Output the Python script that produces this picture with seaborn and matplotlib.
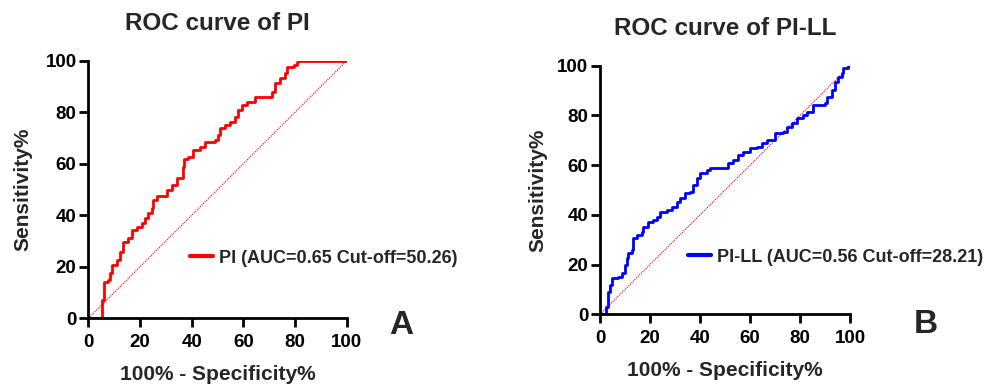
import numpy as np
import pandas as pd
import matplotlib
matplotlib.use("Agg")
import matplotlib.pyplot as plt
import seaborn as sns

# ---- data ----
pi_fpr = [0, 4.5, 5.4, 6.0, 7.7, 8.4, 9.0, 11.0, 12.3, 13.5, 15.5, 16.8, 18.7, 20.6, 21.9,
          23.2, 24.5, 25.2, 26.5, 29.7, 30.3, 32.3, 34.2, 36.1, 36.5, 37.0, 38.7, 40.6, 43.2,
          45.2, 49.0, 50.3, 51.0, 52.9, 54.8, 56.8, 58.1, 59.4, 61.3, 64.5, 69.0, 71.0, 72.3,
          74.2, 76.1, 76.8, 79.4, 80.6, 81.3, 100]
pi_tpr = [0, 0, 7.0, 14.0, 15.0, 17.5, 20.7, 22.6, 25.9, 29.8, 31.0, 34.3, 35.6, 36.9, 38.8,
          40.7, 42.7, 45.9, 47.5, 47.5, 49.8, 51.7, 54.3, 54.3, 58.9, 62.0, 62.7, 65.3, 66.6,
          68.6, 69.2, 71.2, 73.7, 75.0, 76.3, 78.3, 80.9, 82.8, 84.1, 86.0, 86.0, 88.0, 91.2,
          93.1, 95.1, 97.7, 98.3, 99.6, 100, 100]

pill_fpr = [0, 2.0, 2.4, 3.3, 4.0, 4.7, 7.3, 8.7, 10.0, 10.9, 11.3, 12.7, 13.3, 14.7, 16.7,
            17.3, 19.3, 21.3, 22.7, 24.0, 26.7, 28.7, 30.7, 32.0, 34.0, 36.0, 37.3, 38.7, 40.0,
            42.7, 44.0, 49.3, 51.3, 53.3, 55.3, 57.3, 60.0, 62.7, 64.7, 66.7, 70.0, 73.3, 74.7,
            76.7, 78.7, 81.3, 82.7, 85.3, 90.0, 90.7, 92.7, 94.0, 95.3, 96.7, 97.3, 99.3, 100]
pill_tpr = [0, 0, 3.1, 9.1, 11.8, 14.5, 15.1, 16.5, 19.8, 22.5, 24.5, 25.9, 30.6, 31.9, 33.2,
            35.3, 37.3, 37.9, 39.3, 41.3, 42.0, 43.3, 45.3, 46.6, 48.7, 49.3, 52.0, 54.7, 56.7,
            58.0, 58.7, 59.0, 60.7, 62.0, 64.1, 65.4, 66.8, 67.4, 68.8, 70.1, 72.8, 73.5, 75.5,
            76.8, 78.8, 80.2, 81.5, 84.2, 84.9, 87.5, 90.2, 93.6, 95.6, 96.9, 98.9, 100, 100]

ticks = [0, 20, 40, 60, 80, 100]
titles = ["ROC curve of PI", "ROC curve of PI-LL"]
labels = ["PI (AUC=0.65 Cut-off=50.26)", "PI-LL (AUC=0.56 Cut-off=28.21)"]
panel_letters = ["A", "B"]

sns.set_theme(style="ticks")
plt.rcParams["font.family"] = ["Liberation Sans", "DejaVu Sans"]
plt.rcParams["font.weight"] = "bold"

fig = plt.figure(figsize=(9.89, 3.9), dpi=100)
ax1 = fig.add_axes([0.0893, 0.1838, 0.2613, 0.6605])
ax2 = fig.add_axes([0.6067, 0.1941, 0.2528, 0.6374])

specs = [
    dict(ax=ax1, fx=pi_fpr, ty=pi_tpr, col="#ff0000", title=titles[0], lab=labels[0],
         letter=panel_letters[0], leg=(0.394, 0.234), let_xy=(1.21, -0.026),
         ylab_x=-0.218, xlab_y=-0.181),
    dict(ax=ax2, fx=pill_fpr, ty=pill_tpr, col="#0000ff", title=titles[1], lab=labels[1],
         letter=panel_letters[1], leg=(0.352, 0.230), let_xy=(1.304, -0.043),
         ylab_x=-0.212, xlab_y=-0.188),
]

for s in specs:
    ax = s["ax"]
    df = pd.DataFrame({"fpr": s["fx"], "tpr": s["ty"]})
    ref = pd.DataFrame({"fpr": [0, 100], "tpr": [0, 100]})
    sns.lineplot(data=ref, x="fpr", y="tpr", ax=ax, color="#ff0000", lw=0.8,
                 linestyle=(0, (1, 1)), estimator=None, legend=False)
    sns.lineplot(data=df, x="fpr", y="tpr", ax=ax, color=s["col"], lw=2.0,
                 drawstyle="steps-post", estimator=None, label=s["lab"])
    ax.set_xlim(0, 100)
    ax.set_ylim(0, 100)
    ax.set_xticks(ticks)
    ax.set_yticks(ticks)
    ax.set_xticklabels([str(t) for t in ticks], fontsize=13.5, fontweight="bold")
    ax.set_yticklabels([str(t) for t in ticks], fontsize=13.5, fontweight="bold")
    ax.set_xlabel("100% - Specificity%", fontsize=15, fontweight="bold")
    ax.set_ylabel("Sensitivity%", fontsize=15, fontweight="bold")
    ax.yaxis.set_label_coords(s["ylab_x"], 0.5)
    ax.xaxis.set_label_coords(0.5, s["xlab_y"])
    ax.set_title(s["title"], fontsize=17.5, fontweight="bold", pad=22)
    for sp in ["top", "right"]:
        ax.spines[sp].set_visible(False)
    for sp in ["left", "bottom"]:
        ax.spines[sp].set_linewidth(2.0)
        ax.spines[sp].set_color("black")
    ax.tick_params(axis="both", direction="out", length=6.5, width=2.0, color="black",
                   labelcolor="black")
    ax.tick_params(axis="x", pad=5)
    ax.tick_params(axis="y", pad=2)
    leg = ax.legend(loc="center left", bbox_to_anchor=s["leg"], frameon=False,
                    borderpad=0, borderaxespad=0,
                    handlelength=1.25, handletextpad=0.35,
                    prop={"size": 13, "weight": "bold"})
    for h in leg.get_lines():
        h.set_linewidth(3)
    ax.text(s["let_xy"][0], s["let_xy"][1], s["letter"], transform=ax.transAxes,
            fontsize=24, fontweight="bold", ha="center", va="center")

fig.savefig("out.png", dpi=100)
